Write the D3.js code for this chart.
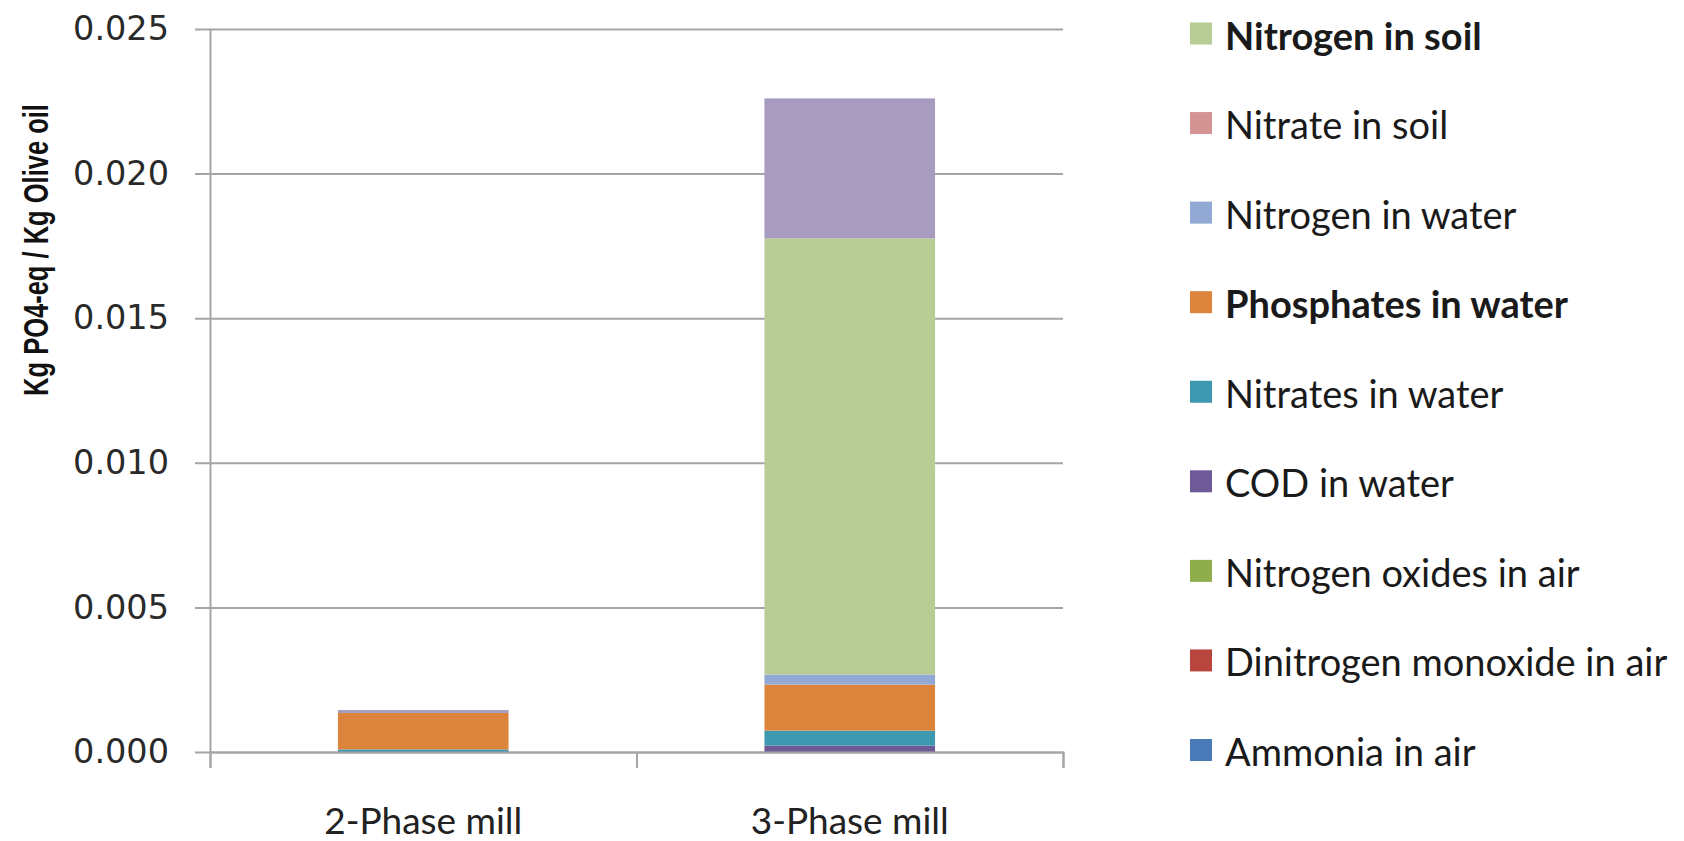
<!DOCTYPE html>
<html>
<head>
<meta charset="utf-8">
<script src="https://cdn.jsdelivr.net/npm/d3@7"></script>
<style>
  html, body { margin: 0; padding: 0; background: #ffffff; }
  svg { display: block; }
</style>
</head>
<body>
<svg id="chart" width="1684" height="841"></svg>
<script>
// Eutrophication contributions per kg of olive oil, by mill type
const categories = ["2-Phase mill", "3-Phase mill"];

// Stack order, bottom to top
const seriesNames = [
  "Ammonia in air",
  "Dinitrogen monoxide in air",
  "Nitrogen oxides in air",
  "COD in water",
  "Nitrates in water",
  "Phosphates in water",
  "Nitrogen in water",
  "Nitrate in soil",
  "Nitrogen in soil",
  "series10"
];

const ammoniaAir        = [0.00000, 0.00000];
const dinitrogenAir     = [0.00000, 0.00000];
const nitrogenOxidesAir = [0.00000, 0.00000];
const codWater          = [0.00000, 0.00022];
const nitratesWater     = [0.00009, 0.00052];
const phosphatesWater   = [0.00126, 0.00159];
const nitrogenWater     = [0.00000, 0.00035];
const nitrateSoil       = [0.00000, 0.00000];
const nitrogenSoil      = [0.00000, 0.01508];
const series10          = [0.00010, 0.00484];

const seriesValues = [
  ammoniaAir, dinitrogenAir, nitrogenOxidesAir, codWater, nitratesWater,
  phosphatesWater, nitrogenWater, nitrateSoil, nitrogenSoil, series10
];

const seriesColors = [
  "#4a7ab7", "#b9453f", "#8fad4b", "#6f5a98", "#3e98b0",
  "#dc843b", "#93a9d5", "#d49393", "#b8cc95", "#a79bbf"
];

// Legend lists series top-down; the last stacked series has no entry
const legendNames = seriesNames.slice(0, 9).reverse();
const legendBold = ["Nitrogen in soil", "Phosphates in water"];

const yTicks = [0, 0.005, 0.010, 0.015, 0.020, 0.025];

// Table for d3.stack
const table = categories.map((c, i) => {
  const row = { category: c };
  seriesNames.forEach((s, k) => { row[s] = seriesValues[k][i]; });
  return row;
});

const svg = d3.select("#chart");

const plot = { left: 210, right: 1063, top: 29, bottom: 752 };

const x = d3.scaleBand()
  .domain(categories)
  .range([plot.left, plot.right])
  .paddingInner(0.6)
  .paddingOuter(0.3);

const y = d3.scaleLinear()
  .domain([0, 0.025])
  .range([plot.bottom, plot.top]);

const gridColor = "#a5a5a5";

// Horizontal gridlines (extend slightly left of the axis as tick marks)
const grid = svg.append("g")
  .attr("transform", `translate(${plot.left - 15},0)`)
  .call(d3.axisRight(y).tickValues(yTicks).tickSize(plot.right - plot.left + 15).tickFormat(""));
grid.select(".domain").remove();
grid.selectAll(".tick line").attr("stroke", gridColor).attr("stroke-width", 2);

// Y axis labels
const yAxis = svg.append("g")
  .attr("transform", `translate(${plot.left},0)`)
  .call(d3.axisLeft(y).tickValues(yTicks).tickSize(0).tickPadding(41).tickFormat(d3.format(".3f")));
yAxis.select(".domain").attr("stroke", gridColor).attr("stroke-width", 2);
yAxis.selectAll(".tick text")
  .attr("font-family", "DejaVu Sans, Verdana, sans-serif")
  .attr("font-size", 33.5)
  .attr("fill", "#2a2a2a");

// Stacked bars
const stack = d3.stack().keys(seriesNames);
const layers = stack(table);

svg.append("g")
  .selectAll("g")
  .data(layers)
  .join("g")
  .attr("fill", (d, i) => seriesColors[i])
  .selectAll("rect")
  .data(d => d)
  .join("rect")
  .attr("x", d => x(d.data.category))
  .attr("width", x.bandwidth())
  .attr("y", d => y(d[1]))
  .attr("height", d => Math.max(0, y(d[0]) - y(d[1])));

// X axis: ticks sit between categories
const xEdges = d3.scaleLinear().domain([0, categories.length]).range([plot.left, plot.right]);
const xAxisTicks = svg.append("g")
  .attr("transform", `translate(0,${plot.bottom})`)
  .call(d3.axisBottom(xEdges).tickValues(d3.range(categories.length + 1)).tickSize(16).tickFormat(""));
xAxisTicks.select(".domain").attr("stroke", gridColor).attr("stroke-width", 2);
xAxisTicks.selectAll(".tick line").attr("stroke", gridColor).attr("stroke-width", 2);

// Category labels
const xAxis = svg.append("g")
  .attr("transform", `translate(0,${plot.bottom})`)
  .call(d3.axisBottom(x).tickSize(0).tickPadding(56));
xAxis.select(".domain").remove();
xAxis.selectAll(".tick text")
  .attr("font-family", "Lato, 'Open Sans', sans-serif")
  .attr("font-size", 37)
  .attr("fill", "#222");

// Y axis title, horizontally condensed to fit 292px along the axis
const title = svg.append("text")
  .attr("text-anchor", "middle")
  .attr("dominant-baseline", "central")
  .attr("font-family", "'Liberation Sans', Arial, sans-serif")
  .attr("font-weight", "bold")
  .attr("font-size", 35)
  .attr("fill", "#111")
  .text("Kg PO4-eq / Kg Olive oil");
const titleLen = title.node().getComputedTextLength();
const squeeze = 292 / titleLen;
title.attr("transform", `translate(35,250) rotate(-90) scale(${squeeze},1)`);

// Legend
const legendColor = d3.scaleOrdinal().domain(seriesNames).range(seriesColors);
const legendY = d3.scalePoint().domain(legendNames).range([33.5, 750]);

const legend = svg.append("g");
const item = legend.selectAll("g")
  .data(legendNames)
  .join("g")
  .attr("transform", d => `translate(1190,${legendY(d)})`);

item.append("rect")
  .attr("x", 0).attr("y", -11)
  .attr("width", 22).attr("height", 22)
  .attr("fill", d => legendColor(d));

item.append("text")
  .attr("x", 35)
  .attr("y", 1)
  .attr("dominant-baseline", "central")
  .attr("font-family", "Lato, 'Open Sans', sans-serif")
  .attr("font-size", 38)
  .attr("font-weight", d => legendBold.includes(d) ? "bold" : "normal")
  .attr("fill", "#1a1a1a")
  .text(d => d);
</script>
</body>
</html>
